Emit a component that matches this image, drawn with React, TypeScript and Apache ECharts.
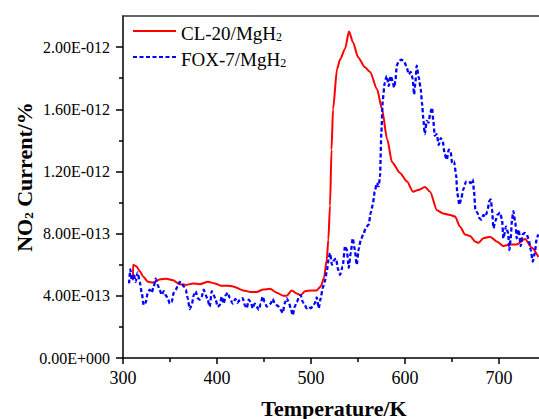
import React, { useEffect, useRef } from "react";
import * as echarts from "echarts";

const UNIT = 1e-13;

const X_MIN = 300;
const X_MAX = 742.5;
const X_MAJOR = [300, 400, 500, 600, 700];
const X_MINOR = [350, 450, 550, 650];
const Y_MAJOR = [0, 4, 8, 12, 16, 20];
const Y_MINOR = [2, 6, 10, 14, 18];
const Y_MAX = 22;

const SERIES_NAMES = ["CL-20/MgH2", "FOX-7/MgH2"];

// CL-20/MgH2 (values in 1e-13 %)
const CL20_T = [
  310.5, 310.7, 314.1, 317.8, 321.3, 326.6, 331.9, 339.0, 346.1, 353.2, 360.3, 367.3, 374.5, 381.6,
  390.4, 397.6, 404.6, 411.7, 417.0, 428.0, 435.1, 442.2, 449.3, 456.4, 463.5, 470.5, 474.1, 479.5,
  484.8, 489.0, 493.6, 500.7, 506.1, 510.3, 513.8, 516.7, 518.4, 520.2, 521.8, 523.4, 527.7, 530.9,
  536.2, 540.4, 544.7, 550.0, 557.4, 562.8, 570.2, 575.5, 580.9, 586.2, 594.7, 602.1, 608.5, 613.8,
  621.3, 626.6, 634.0, 640.4, 647.9, 653.2, 658.5, 663.8, 669.1, 674.5, 678.0, 683.3, 690.4, 697.6,
  704.6, 711.7, 718.8, 727.7, 734.8, 741.8,
];
const CL20_V = [
  5.0, 6.0, 5.9, 5.6, 5.25, 4.9, 4.85, 5.05, 5.1, 5.0, 4.75, 4.7, 4.8, 4.75,
  4.9, 4.8, 4.65, 4.65, 4.6, 4.35, 4.25, 4.25, 4.4, 4.45, 4.2, 4.0, 4.0, 4.35,
  4.15, 4.05, 4.3, 4.35, 4.35, 4.6, 5.15, 6.3, 7.6, 9.8, 13.4, 16.0, 18.6, 19.2,
  19.9, 21.0, 20.3, 19.35, 18.7, 18.4, 17.3, 16.0, 14.1, 12.6, 11.9, 11.35, 10.7, 10.8,
  11.0, 10.7, 9.5, 9.3, 9.2, 9.1, 8.45, 7.95, 7.85, 7.5, 7.4, 7.7, 7.8, 7.5,
  7.2, 7.3, 7.3, 7.65, 7.1, 6.5,
];

// FOX-7/MgH2 (values in 1e-13 %)
const FOX7_T = [
  306.4, 307.8, 309.3, 311.4, 313.5, 315.6, 317.8, 319.9, 322.0, 324.1, 326.3, 328.4, 330.5, 332.7,
  334.8, 336.9, 339.0, 341.2, 343.3, 345.4, 347.6, 349.7, 351.8, 353.9, 356.1, 358.2, 360.3, 362.4,
  364.6, 366.7, 368.8, 371.0, 373.1, 375.2, 377.3, 379.5, 381.6, 383.7, 385.9, 388.0, 390.1, 392.2,
  394.4, 396.5, 398.6, 400.7, 402.9, 405.0, 407.1, 409.3, 411.4, 413.5, 416.7, 419.5, 421.6, 424.5,
  427.3, 429.5, 431.6, 433.7, 435.9, 438.0, 440.1, 442.2, 444.4, 446.5, 448.6, 450.7, 452.9, 455.0,
  457.1, 459.3, 461.4, 463.5, 465.6, 467.8, 469.9, 472.0, 474.1, 476.3, 478.4, 480.5, 482.7, 484.8,
  486.9, 489.0, 491.2, 493.3, 495.4, 497.6, 499.7, 501.8, 503.9, 506.1, 508.2, 510.3, 512.4, 514.6,
  516.7, 518.8, 520.2, 522.3, 524.5, 526.6, 528.7, 530.9, 533.7, 536.2, 538.0, 540.1, 542.2, 544.4,
  546.5, 548.6, 550.7, 552.9, 555.6, 558.5, 561.4, 563.5, 565.6, 567.8, 569.9, 572.0, 573.4, 574.8,
  576.3, 578.4, 580.5, 582.7, 584.8, 586.9, 588.3, 589.7, 591.2, 593.3, 596.1, 598.9, 601.8, 603.9,
  606.1, 608.2, 609.6, 611.0, 612.4, 614.6, 616.7, 618.1, 619.5, 621.0, 623.1, 625.2, 626.6, 628.7,
  630.1, 631.6, 633.7, 635.9, 638.0, 640.1, 642.2, 644.4, 646.5, 648.5, 650.0, 652.1, 654.3, 655.6,
  657.8, 659.9, 662.0, 664.9, 667.8, 669.9, 672.0, 673.4, 674.8, 676.9, 679.0, 681.2, 683.3, 685.4,
  687.6, 689.7, 691.2, 692.6, 694.0, 696.1, 698.2, 701.1, 703.2, 704.6, 707.4, 709.6, 711.0, 712.4,
  713.8, 715.2, 717.3, 718.8, 720.9, 723.1, 725.2, 727.3, 729.5, 731.6, 733.7, 735.9, 738.0, 740.1,
  741.8,
];
const FOX7_V = [
  4.8, 5.7, 5.0, 5.4, 4.9, 5.5, 4.9, 4.2, 3.4, 3.55, 4.2, 4.4, 4.2, 4.6,
  5.1, 4.7, 4.4, 4.05, 4.3, 4.05, 3.85, 3.5, 3.6, 4.2, 4.4, 4.6, 4.9, 4.85,
  4.6, 4.4, 3.85, 3.15, 3.4, 4.05, 4.3, 3.85, 3.75, 3.95, 4.4, 4.05, 3.75, 3.3,
  4.3, 4.05, 3.75, 3.3, 3.4, 3.95, 3.5, 4.05, 4.2, 3.85, 3.5, 3.8, 3.55, 3.75,
  3.85, 3.4, 3.2, 3.75, 3.6, 3.2, 3.5, 3.3, 3.1, 3.5, 3.95, 3.6, 3.3, 3.4,
  3.5, 3.8, 3.5, 3.4, 3.3, 3.1, 2.9, 3.5, 3.85, 3.6, 3.2, 2.75, 3.3, 3.6,
  3.85, 4.05, 3.6, 3.4, 3.2, 3.3, 3.2, 3.3, 3.5, 3.9, 3.2, 3.85, 4.5, 4.9,
  5.55, 6.4, 6.75, 6.0, 6.3, 6.4, 5.7, 5.35, 5.9, 7.2, 7.0, 5.8, 6.75, 7.7,
  7.0, 6.0, 7.0, 7.6, 7.95, 8.4, 8.6, 9.35, 9.85, 10.7, 11.25, 11.05, 11.7, 14.5,
  16.6, 17.7, 18.15, 17.5, 18.15, 17.8, 17.4, 17.8, 18.8, 19.1, 19.2, 19.1, 18.7, 18.25,
  18.4, 17.95, 16.95, 17.7, 18.8, 18.05, 17.3, 16.4, 15.35, 14.4, 15.25, 15.15, 15.7, 16.1,
  15.25, 14.3, 14.4, 13.7, 14.15, 13.95, 13.1, 12.75, 13.4, 13.3, 12.55, 12.65, 11.8, 10.6,
  9.85, 10.3, 10.85, 11.35, 11.35, 11.25, 11.5, 10.7, 9.55, 9.35, 9.0, 8.9, 9.2, 9.1,
  9.45, 10.1, 10.2, 9.55, 8.35, 8.8, 9.2, 9.35, 8.9, 7.7, 8.45, 8.05, 6.95, 7.7,
  8.9, 9.45, 8.7, 7.7, 8.25, 7.2, 7.95, 8.05, 7.95, 7.6, 6.95, 6.2, 6.75, 7.7,
  7.95,
];

const FONT = "Liberation Serif";

function fmtSci(v: number): string {
  const s = v.toExponential(2); // e.g. "4.00e-13"
  const [m, e] = s.split("e");
  const sign = e[0] === "-" ? "-" : "+";
  const digits = e.replace(/[+-]/, "").padStart(3, "0");
  return `${m}E${sign}${digits}`;
}

const pairs = (xs: number[], ys: number[]) => xs.map((x, i) => [x, ys[i] * UNIT]);

export default function App() {
  const ref = useRef<HTMLDivElement>(null);

  useEffect(() => {
    if (!ref.current) return;
    const chart = echarts.init(ref.current, null, { renderer: "svg" });

    const legendRich = {
      a: { fontSize: 19, fontFamily: FONT, color: "#000", lineHeight: 24, verticalAlign: "bottom" as const },
      b: { fontSize: 12, fontFamily: FONT, color: "#000", lineHeight: 13, verticalAlign: "bottom" as const },
    };

    const option: any = {
      animation: false,
      backgroundColor: "#fff",
      textStyle: { fontFamily: FONT },
      grid: { left: 123, right: 0, top: 16, bottom: 61, containLabel: false, outerBoundsMode: "none" },
      legend: {
        orient: "vertical",
        left: 127,
        top: 19,
        itemWidth: 43,
        itemHeight: 14,
        itemGap: 7,
        data: SERIES_NAMES,
        itemStyle: { color: "transparent", borderWidth: 0, opacity: 0 },
        formatter: (name: string) => `{a|${name.slice(0, -1)}}{b|2}`,
        textStyle: { rich: legendRich, fontFamily: FONT, fontSize: 19, color: "#000" },
      },
      xAxis: [
        {
          type: "value",
          min: X_MIN,
          max: X_MAX,
          position: "bottom",
          axisLine: { show: true, onZero: false, lineStyle: { color: "#000", width: 1.5 } },
          axisTick: { show: true, inside: false, length: 6, customValues: X_MAJOR, lineStyle: { color: "#000", width: 1.5 } },
          axisLabel: { customValues: X_MAJOR, fontSize: 18, fontFamily: FONT, color: "#000", margin: 11 },
          splitLine: { show: false },
        },
        {
          type: "value",
          min: X_MIN,
          max: X_MAX,
          position: "bottom",
          axisLine: { show: false },
          axisTick: { show: true, inside: false, length: 4, customValues: X_MINOR, lineStyle: { color: "#000", width: 1.5 } },
          axisLabel: { show: false },
          splitLine: { show: false },
        },
        {
          type: "value",
          min: X_MIN,
          max: X_MAX,
          position: "top",
          axisLine: { show: true, onZero: false, lineStyle: { color: "#333", width: 1.5 } },
          axisTick: { show: false },
          axisLabel: { show: false },
          splitLine: { show: false },
        },
      ],
      yAxis: [
        {
          type: "value",
          min: 0,
          max: Y_MAX * UNIT,
          position: "left",
          axisLine: { show: true, onZero: false, lineStyle: { color: "#000", width: 1.5 } },
          axisTick: { show: true, inside: false, length: 7, customValues: Y_MAJOR.map((v) => v * UNIT), lineStyle: { color: "#000", width: 1.5 } },
          axisLabel: {
            customValues: Y_MAJOR.map((v) => v * UNIT),
            formatter: (v: number) => fmtSci(v),
            fontSize: 16,
            fontFamily: FONT,
            color: "#000",
            margin: 13,
          },
          splitLine: { show: false },
        },
        {
          type: "value",
          min: 0,
          max: Y_MAX * UNIT,
          position: "left",
          axisLine: { show: false },
          axisTick: { show: true, inside: false, length: 4, customValues: Y_MINOR.map((v) => v * UNIT), lineStyle: { color: "#000", width: 1.5 } },
          axisLabel: { show: false },
          splitLine: { show: false },
        },
      ],
      series: [
        {
          name: SERIES_NAMES[0],
          type: "line",
          xAxisIndex: 0,
          yAxisIndex: 0,
          data: pairs(CL20_T, CL20_V),
          symbol: "none",
          showSymbol: false,
          smooth: 0.25,
          smoothMonotone: "x",
          lineStyle: { color: "#ff0000", width: 2 },
          itemStyle: { color: "#ff0000" },
        },
        {
          name: SERIES_NAMES[1],
          type: "line",
          xAxisIndex: 0,
          yAxisIndex: 0,
          data: pairs(FOX7_T, FOX7_V),
          symbol: "none",
          showSymbol: false,
          smooth: 0.2,
          smoothMonotone: "x",
          lineStyle: { color: "#0000ff", width: 2.3, type: [4, 2.5] },
          itemStyle: { color: "#0000ff" },
        },
      ],
      graphic: [
        {
          type: "text",
          x: 334,
          y: 408,
          style: {
            text: "Temperature/K",
            fontFamily: FONT,
            fontSize: 22,
            fontWeight: "bold",
            fill: "#000",
            align: "center",
            verticalAlign: "middle",
          },
        },
        {
          type: "text",
          x: 22,
          y: 177,
          rotation: Math.PI / 2,
          style: {
            text: "{a|NO}{b|2}{a| Current/%}",
            fontFamily: FONT,
            fontSize: 22,
            fontWeight: "bold",
            fill: "#000",
            align: "center",
            verticalAlign: "middle",
            rich: {
              a: { fontFamily: FONT, fontSize: 22, fontWeight: "bold", fill: "#000", lineHeight: 26, verticalAlign: "bottom" },
              b: { fontFamily: FONT, fontSize: 13, fontWeight: "bold", fill: "#000", lineHeight: 14, verticalAlign: "bottom" },
            },
          },
        },
      ],
    };

    chart.setOption(option);
    return () => chart.dispose();
  }, []);

  return (
    <div
      ref={ref}
      style={{ position: "fixed", left: 0, top: 0, width: 539, height: 419, background: "#fff" }}
    />
  );
}
